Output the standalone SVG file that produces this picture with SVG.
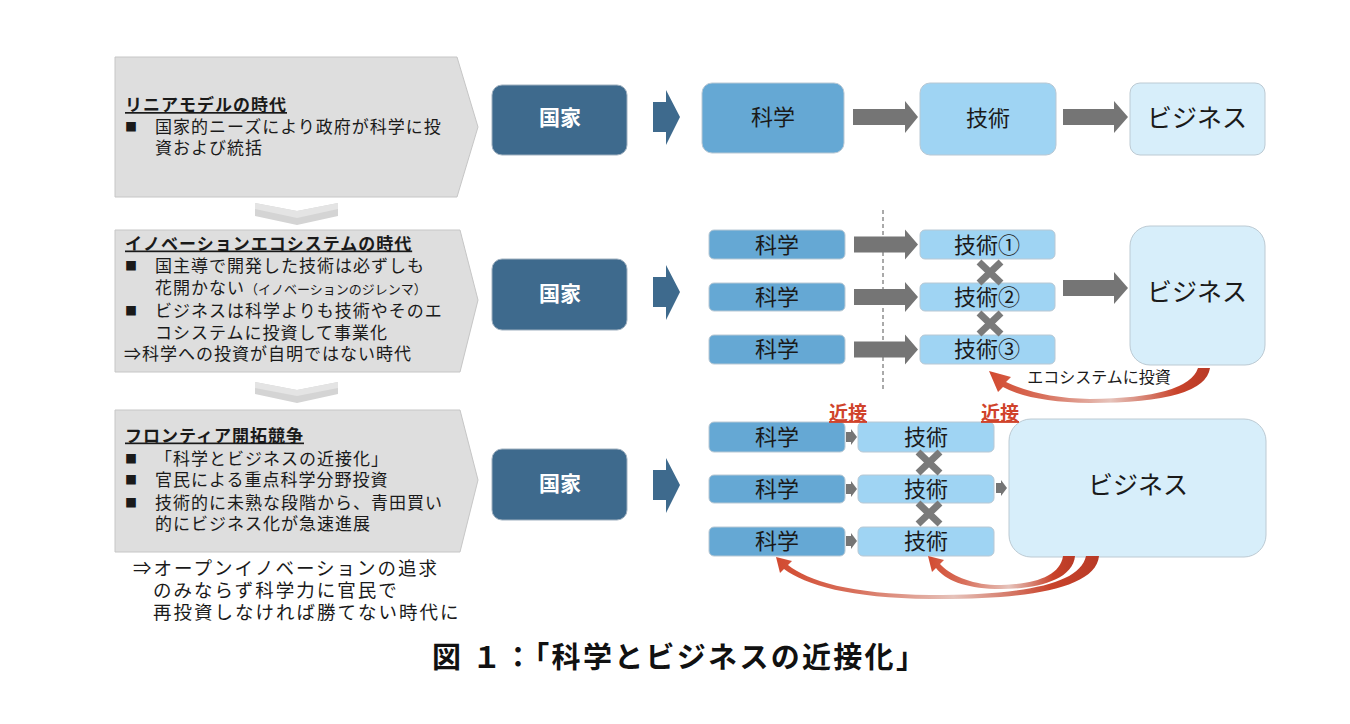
<svg xmlns="http://www.w3.org/2000/svg" width="1350" height="724" viewBox="0 0 1350 724">
<defs>
<style>
text{font-family:"Noto Sans CJK JP","Noto Sans CJK SC",sans-serif;fill:#1a1a1a}
.era{fill:#dedede;stroke:#c6c6c6;stroke-width:1}
.lt{font-size:17px;letter-spacing:1px}
.ttl{font-size:17px;letter-spacing:1px;font-weight:700;text-decoration:underline}
.bul{font-size:12px}
.sm{font-size:13px}
.note{font-size:18.5px;letter-spacing:2px}
.nation{fill:#3e6a8d;stroke:#9fb0bf;stroke-width:1}
.nt{font-size:21px;font-weight:700;fill:#ffffff;text-anchor:middle}
.sci{fill:#65a8d4;stroke:#b8c8d4;stroke-width:1}
.tec{fill:#9fd4f3;stroke:#b8c8d4;stroke-width:1}
.biz{fill:#d7eefa;stroke:#bccad3;stroke-width:1}
.bt{font-size:22px;text-anchor:middle}
.bz{font-size:25px;text-anchor:middle}
.ga{fill:#757575}
.ba{fill:#3e6a8d}
.x{stroke:#7a7a7a;stroke-width:7;stroke-linecap:butt}
.near{font-size:19px;font-weight:700;fill:#d0432b;text-anchor:middle;text-decoration:underline}
.chv1{fill:#d4d4d4}
.chv2{fill:#e4e4e4}
</style>
<linearGradient id="rg" x1="0" y1="0" x2="1" y2="0">
<stop offset="0" stop-color="#d24a30"/>
<stop offset="0.25" stop-color="#d8715d"/>
<stop offset="0.55" stop-color="#e6c3bb"/>
<stop offset="0.85" stop-color="#c9432b"/>
<stop offset="1" stop-color="#b83a26"/>
</linearGradient>
</defs>
<rect width="1350" height="724" fill="#ffffff"/>

<!-- Era panels -->
<g id="era1">
<polygon class="era" points="115,57 457,57 478,127 457,197 115,197"/>
<text class="ttl" x="125" y="111">リニアモデルの時代</text>
<text class="bul" x="125" y="132">■</text>
<text class="lt" x="155" y="133">国家的ニーズにより政府が科学に投</text>
<text class="lt" x="155" y="154">資および統括</text>
</g>
<g id="chevron1">
<polygon class="chv1" points="255,203 297,211 338,203 338,216 297,225 255,216"/>
<polygon class="chv2" points="255,203 297,211 338,203 338,209 297,218 255,209"/>
</g>
<g id="era2">
<polygon class="era" points="115,230 460,230 478,300 460,372 115,372"/>
<text class="ttl" x="125" y="249.5">イノベーションエコシステムの時代</text>
<text class="bul" x="125" y="270.5">■</text>
<text class="lt" x="155" y="271.5">国主導で開発した技術は必ずしも</text>
<text class="lt" x="155" y="293.5">花開かない<tspan class="sm" style="letter-spacing:0">（イノベーションのジレンマ）</tspan></text>
<text class="bul" x="125" y="315.5">■</text>
<text class="lt" x="155" y="316.5">ビジネスは科学よりも技術やそのエ</text>
<text class="lt" x="155" y="338.5">コシステムに投資して事業化</text>
<text class="lt" x="124" y="359.5">⇒科学への投資が自明ではない時代</text>
</g>
<g id="chevron2">
<polygon class="chv1" points="255,382 297,390 338,382 338,394 297,403 255,394"/>
<polygon class="chv2" points="255,382 297,390 338,382 338,388 297,396 255,388"/>
</g>
<g id="era3">
<polygon class="era" points="115,410 460,410 478,480 460,552 115,552"/>
<text class="ttl" x="125" y="441.5">フロンティア開拓競争</text>
<text class="bul" x="125" y="463.5">■</text>
<text class="lt" x="155" y="464.5">「科学とビジネスの近接化」</text>
<text class="bul" x="125" y="484.5">■</text>
<text class="lt" x="155" y="485.5">官民による重点科学分野投資</text>
<text class="bul" x="125" y="507.5">■</text>
<text class="lt" x="155" y="508.5">技術的に未熟な段階から、青田買い</text>
<text class="lt" x="155" y="529.5">的にビジネス化が急速進展</text>
</g>
<g id="conclusion">
<text class="note" x="133" y="575">⇒オープンイノベーションの追求</text>
<text class="note" x="153" y="597">のみならず科学力に官民で</text>
<text class="note" x="153" y="619">再投資しなければ勝てない時代に</text>
</g>

<!-- Row 1 nodes -->
<g id="nation1"><rect class="nation" x="492" y="85" width="135" height="70" rx="10"/><text class="nt" x="560" y="125">国家</text></g>
<g id="science1"><rect class="sci" x="702" y="83" width="142" height="70" rx="10"/><text class="bt" x="773" y="125">科学</text></g>
<g id="tech1"><rect class="tec" x="920" y="83" width="136" height="72" rx="10"/><text class="bt" x="988" y="126">技術</text></g>
<g id="biz1"><rect class="biz" x="1130" y="83" width="135" height="72" rx="10"/><text class="bz" x="1197" y="127">ビジネス</text></g>

<!-- Row 2 nodes -->
<g id="nation2"><rect class="nation" x="492" y="259" width="135" height="71" rx="10"/><text class="nt" x="560" y="301">国家</text></g>
<g id="science2a"><rect class="sci" x="709" y="230" width="136" height="29" rx="5"/><text class="bt" x="777" y="253">科学</text></g>
<g id="science2b"><rect class="sci" x="709" y="283" width="136" height="28" rx="5"/><text class="bt" x="777" y="305">科学</text></g>
<g id="science2c"><rect class="sci" x="709" y="335" width="136" height="29" rx="5"/><text class="bt" x="777" y="357">科学</text></g>
<g id="tech2a"><rect class="tec" x="920" y="230" width="135" height="29" rx="5"/><text class="bt" x="987" y="253">技術①</text></g>
<g id="tech2b"><rect class="tec" x="920" y="283" width="135" height="28" rx="5"/><text class="bt" x="987" y="305">技術②</text></g>
<g id="tech2c"><rect class="tec" x="920" y="335" width="135" height="29" rx="5"/><text class="bt" x="987" y="357">技術③</text></g>
<g id="biz2"><rect class="biz" x="1130" y="226" width="135" height="139" rx="20"/><text class="bz" x="1197" y="301">ビジネス</text></g>

<!-- Row 3 nodes -->
<g id="nation3"><rect class="nation" x="492" y="449" width="135" height="71" rx="10"/><text class="nt" x="560" y="491">国家</text></g>
<g id="science3a"><rect class="sci" x="709" y="422" width="136" height="30" rx="5"/><text class="bt" x="777" y="445">科学</text></g>
<g id="science3b"><rect class="sci" x="709" y="475" width="136" height="28" rx="5"/><text class="bt" x="777" y="497">科学</text></g>
<g id="science3c"><rect class="sci" x="709" y="527" width="136" height="29" rx="5"/><text class="bt" x="777" y="549">科学</text></g>
<g id="tech3a"><rect class="tec" x="858" y="422" width="136" height="30" rx="5"/><text class="bt" x="926" y="445">技術</text></g>
<g id="tech3b"><rect class="tec" x="858" y="475" width="136" height="28" rx="5"/><text class="bt" x="926" y="497">技術</text></g>
<g id="tech3c"><rect class="tec" x="858" y="527" width="136" height="29" rx="5"/><text class="bt" x="926" y="549">技術</text></g>
<g id="biz3"><rect class="biz" x="1009" y="419" width="257" height="138" rx="22"/><text class="bz" x="1138" y="494">ビジネス</text></g>

<!-- Connectors -->
<g id="connectors">
<polygon class="ba" points="653,102 666,102 666,90 680,117 666,145 666,132 653,132"/>
<polygon class="ba" points="653,277 666,277 666,265 680,292 666,320 666,307 653,307"/>
<polygon class="ba" points="653,470 666,470 666,458 680,485 666,513 666,500 653,500"/>

<polygon class="ga" points="853,109 905,109 905,101 918,117 905,133 905,125 853,125"/>
<polygon class="ga" points="1063,109 1114,109 1114,101 1128,117 1114,133 1114,125 1063,125"/>

<line x1="883" y1="210" x2="883" y2="392" stroke="#555555" stroke-width="1" stroke-dasharray="4,3"/>
<polygon class="ga" points="854,236.5 905,236.5 905,229.5 918,244.5 905,259.5 905,252.5 854,252.5"/>
<polygon class="ga" points="854,289 905,289 905,282 918,297 905,312 905,305 854,305"/>
<polygon class="ga" points="854,341.5 905,341.5 905,334.5 918,349.5 905,364.5 905,357.5 854,357.5"/>
<polygon class="ga" points="1063,280 1114,280 1114,272 1128,288 1114,304 1114,296 1063,296"/>
<path class="x" d="M979,262 L1001,283 M1001,262 L979,283"/>
<path class="x" d="M979,313 L1001,334 M1001,313 L979,334"/>
<path fill="url(#rg)" d="M1198,368 L1210,368 Q1205,403 1090,403 Q1030,402 1003,387 L998,392 L989,371 L1011,377 L1006,382 Q1040,398 1090,399 Q1188,398 1198,368 Z"/>
<text x="1099" y="383" style="font-size:16px;text-anchor:middle">エコシステムに投資</text>

<polygon class="ga" points="846,432 851,432 851,429 857,437 851,445 851,442 846,442"/>
<polygon class="ga" points="846,484 851,484 851,481 857,489 851,497 851,494 846,494"/>
<polygon class="ga" points="846,536 851,536 851,533 857,541 851,549 851,546 846,546"/>
<polygon class="ga" points="996,483 1001,483 1001,480 1007,488 1001,496 1001,493 996,493"/>
<path class="x" d="M918,452 L940,473 M940,452 L918,473"/>
<path class="x" d="M918,503 L940,524 M940,503 L918,524"/>
<text class="near" x="848" y="420">近接</text>
<text class="near" x="1000" y="420">近接</text>
<path fill="url(#rg)" d="M1063,556 L1075,556 C1073,582 1030,590 995,589 C965,588 945,580 936,568 L932,572 L928,556 L944,560 L940,564 C950,575 970,584 995,585 C1030,585 1060,578 1063,556 Z"/>
<path fill="url(#rg)" d="M1086,556 L1099,556 C1096,590 1020,600 930,599 C850,598 805,585 784,569 L780,573 L776,557 L792,561 L788,565 C808,581 850,594 930,595 C1020,595 1080,585 1086,556 Z"/>
</g>

<g id="caption">
<text x="432" y="668" style="font-size:29px;font-weight:700;fill:#111111;letter-spacing:2.3px">図 １：「科学とビジネスの近接化」</text>
</g>
</svg>
